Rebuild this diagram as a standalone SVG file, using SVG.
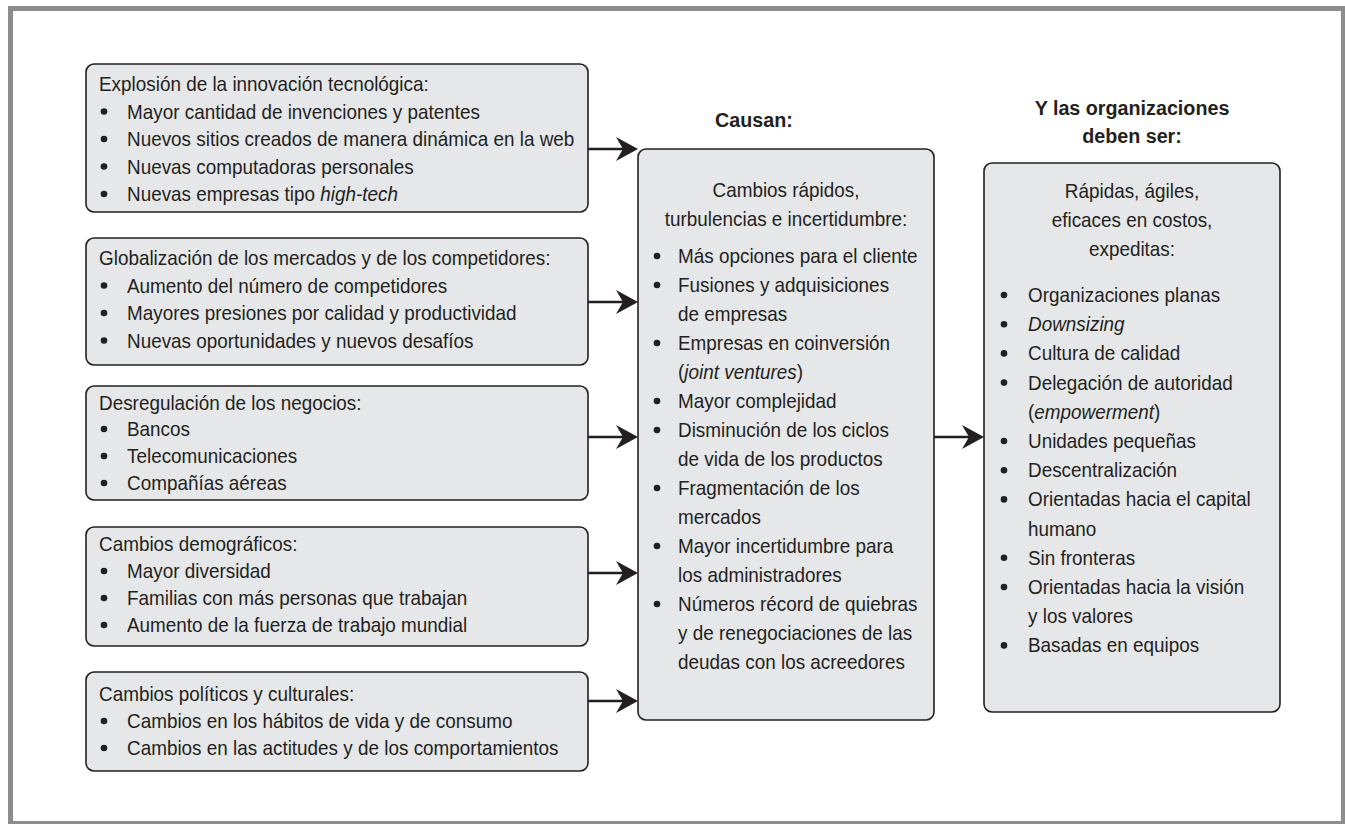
<svg xmlns="http://www.w3.org/2000/svg" width="1345" height="824" viewBox="0 0 1345 824">
<style>
.frame{fill:#ffffff;stroke:#8c8c8c;stroke-width:5}
.box{fill:#e6e7e8;stroke:#231f20;stroke-width:1.6}
.t{font-family:"Liberation Sans",Arial,sans-serif;font-size:21px;fill:#231f20}
.b{font-family:"Liberation Sans",Arial,sans-serif;font-size:21px;font-weight:bold;fill:#231f20}
.c{text-anchor:middle}
.i{font-style:italic}
.dot{fill:#231f20}
.conn{stroke:#231f20;stroke-width:2.6;fill:none}
</style>
<defs>
<marker id="ah" markerUnits="userSpaceOnUse" markerWidth="22" markerHeight="24" viewBox="0 0 22 24" refX="10" refY="12" orient="auto">
<path d="M0,0 L22,12 L0,24 L7,12 Z" fill="#231f20"/>
</marker>
</defs>
<rect width="1345" height="824" fill="#ffffff"/>
<rect class="frame" x="10.5" y="8.5" width="1333" height="815"/>

<g id="box-tecnologia">
<rect class="box" x="86" y="64" width="502" height="148" rx="8"/>
<text class="t" transform="translate(99,91) scale(0.9,1)">Explosión de la innovación tecnológica:</text>
<circle class="dot" cx="104" cy="111.5" r="3.3"/><text class="t" transform="translate(127,118.5) scale(0.9,1)">Mayor cantidad de invenciones y patentes</text>
<circle class="dot" cx="104" cy="139" r="3.3"/><text class="t" transform="translate(127,146) scale(0.9,1)">Nuevos sitios creados de manera dinámica en la web</text>
<circle class="dot" cx="104" cy="166.5" r="3.3"/><text class="t" transform="translate(127,173.5) scale(0.9,1)">Nuevas computadoras personales</text>
<circle class="dot" cx="104" cy="194" r="3.3"/><text class="t" transform="translate(127,201) scale(0.9,1)">Nuevas empresas tipo <tspan class="i">high-tech</tspan></text>
</g>

<g id="box-globalizacion">
<rect class="box" x="86" y="238" width="502" height="127" rx="8"/>
<text class="t" transform="translate(99,265) scale(0.9,1)">Globalización de los mercados y de los competidores:</text>
<circle class="dot" cx="104" cy="285.5" r="3.3"/><text class="t" transform="translate(127,292.5) scale(0.9,1)">Aumento del número de competidores</text>
<circle class="dot" cx="104" cy="313" r="3.3"/><text class="t" transform="translate(127,320) scale(0.9,1)">Mayores presiones por calidad y productividad</text>
<circle class="dot" cx="104" cy="340.5" r="3.3"/><text class="t" transform="translate(127,347.5) scale(0.9,1)">Nuevas oportunidades y nuevos desafíos</text>
</g>

<g id="box-desregulacion">
<rect class="box" x="86" y="386" width="502" height="114" rx="8"/>
<text class="t" transform="translate(99,409.5) scale(0.9,1)">Desregulación de los negocios:</text>
<circle class="dot" cx="104" cy="429" r="3.3"/><text class="t" transform="translate(127,436) scale(0.9,1)">Bancos</text>
<circle class="dot" cx="104" cy="456" r="3.3"/><text class="t" transform="translate(127,463) scale(0.9,1)">Telecomunicaciones</text>
<circle class="dot" cx="104" cy="483" r="3.3"/><text class="t" transform="translate(127,490) scale(0.9,1)">Compañías aéreas</text>
</g>

<g id="box-demograficos">
<rect class="box" x="86" y="527" width="502" height="119" rx="8"/>
<text class="t" transform="translate(99,551) scale(0.9,1)">Cambios demográficos:</text>
<circle class="dot" cx="104" cy="571" r="3.3"/><text class="t" transform="translate(127,578) scale(0.9,1)">Mayor diversidad</text>
<circle class="dot" cx="104" cy="598" r="3.3"/><text class="t" transform="translate(127,605) scale(0.9,1)">Familias con más personas que trabajan</text>
<circle class="dot" cx="104" cy="625" r="3.3"/><text class="t" transform="translate(127,632) scale(0.9,1)">Aumento de la fuerza de trabajo mundial</text>
</g>

<g id="box-politicos">
<rect class="box" x="86" y="672" width="502" height="99" rx="8"/>
<text class="t" transform="translate(99,701) scale(0.9,1)">Cambios políticos y culturales:</text>
<circle class="dot" cx="104" cy="721" r="3.3"/><text class="t" transform="translate(127,728) scale(0.9,1)">Cambios en los hábitos de vida y de consumo</text>
<circle class="dot" cx="104" cy="748" r="3.3"/><text class="t" transform="translate(127,755) scale(0.9,1)">Cambios en las actitudes y de los comportamientos</text>
</g>

<g id="causan">
<text class="b" transform="translate(715,127) scale(0.94,1)">Causan:</text>
<rect class="box" x="638" y="149" width="296" height="571" rx="8"/>
<text class="t c" transform="translate(786,197) scale(0.9,1)">Cambios rápidos,</text>
<text class="t c" transform="translate(786,226) scale(0.9,1)">turbulencias e incertidumbre:</text>
<circle class="dot" cx="657" cy="256" r="3.3"/><text class="t" transform="translate(678,263) scale(0.9,1)">Más opciones para el cliente</text>
<circle class="dot" cx="657" cy="285" r="3.3"/><text class="t" transform="translate(678,292) scale(0.9,1)">Fusiones y adquisiciones</text>
<text class="t" transform="translate(678,321) scale(0.9,1)">de empresas</text>
<circle class="dot" cx="657" cy="343" r="3.3"/><text class="t" transform="translate(678,350) scale(0.9,1)">Empresas en coinversión</text>
<text class="t" transform="translate(678,379) scale(0.9,1)">(<tspan class="i">joint ventures</tspan>)</text>
<circle class="dot" cx="657" cy="401" r="3.3"/><text class="t" transform="translate(678,408) scale(0.9,1)">Mayor complejidad</text>
<circle class="dot" cx="657" cy="430" r="3.3"/><text class="t" transform="translate(678,437) scale(0.9,1)">Disminución de los ciclos</text>
<text class="t" transform="translate(678,466) scale(0.9,1)">de vida de los productos</text>
<circle class="dot" cx="657" cy="488" r="3.3"/><text class="t" transform="translate(678,495) scale(0.9,1)">Fragmentación de los</text>
<text class="t" transform="translate(678,524) scale(0.9,1)">mercados</text>
<circle class="dot" cx="657" cy="546" r="3.3"/><text class="t" transform="translate(678,553) scale(0.9,1)">Mayor incertidumbre para</text>
<text class="t" transform="translate(678,582) scale(0.9,1)">los administradores</text>
<circle class="dot" cx="657" cy="604" r="3.3"/><text class="t" transform="translate(678,611) scale(0.9,1)">Números récord de quiebras</text>
<text class="t" transform="translate(678,640) scale(0.9,1)">y de renegociaciones de las</text>
<text class="t" transform="translate(678,669) scale(0.9,1)">deudas con los acreedores</text>
</g>

<g id="organizaciones">
<text class="b c" transform="translate(1132,115) scale(0.94,1)">Y las organizaciones</text>
<text class="b c" transform="translate(1132,143) scale(0.94,1)">deben ser:</text>
<rect class="box" x="984" y="163" width="296" height="549" rx="8"/>
<text class="t c" transform="translate(1132,198) scale(0.9,1)">Rápidas, ágiles,</text>
<text class="t c" transform="translate(1132,227) scale(0.9,1)">eficaces en costos,</text>
<text class="t c" transform="translate(1132,256) scale(0.9,1)">expeditas:</text>
<circle class="dot" cx="1004" cy="295" r="3.3"/><text class="t" transform="translate(1028,302) scale(0.9,1)">Organizaciones planas</text>
<circle class="dot" cx="1004" cy="324.2" r="3.3"/><text class="t" transform="translate(1028,331.2) scale(0.9,1)"><tspan class="i">Downsizing</tspan></text>
<circle class="dot" cx="1004" cy="353.4" r="3.3"/><text class="t" transform="translate(1028,360.4) scale(0.9,1)">Cultura de calidad</text>
<circle class="dot" cx="1004" cy="382.6" r="3.3"/><text class="t" transform="translate(1028,389.6) scale(0.9,1)">Delegación de autoridad</text>
<text class="t" transform="translate(1028,418.8) scale(0.9,1)">(<tspan class="i">empowerment</tspan>)</text>
<circle class="dot" cx="1004" cy="441" r="3.3"/><text class="t" transform="translate(1028,448) scale(0.9,1)">Unidades pequeñas</text>
<circle class="dot" cx="1004" cy="470.2" r="3.3"/><text class="t" transform="translate(1028,477.2) scale(0.9,1)">Descentralización</text>
<circle class="dot" cx="1004" cy="499.4" r="3.3"/><text class="t" transform="translate(1028,506.4) scale(0.9,1)">Orientadas hacia el capital</text>
<text class="t" transform="translate(1028,535.6) scale(0.9,1)">humano</text>
<circle class="dot" cx="1004" cy="557.8" r="3.3"/><text class="t" transform="translate(1028,564.8) scale(0.9,1)">Sin fronteras</text>
<circle class="dot" cx="1004" cy="587" r="3.3"/><text class="t" transform="translate(1028,594) scale(0.9,1)">Orientadas hacia la visión</text>
<text class="t" transform="translate(1028,623.2) scale(0.9,1)">y los valores</text>
<circle class="dot" cx="1004" cy="645.4" r="3.3"/><text class="t" transform="translate(1028,652.4) scale(0.9,1)">Basadas en equipos</text>
</g>

<g id="connectors">
<line class="conn" x1="588" y1="149" x2="626" y2="149" marker-end="url(#ah)"/>
<line class="conn" x1="588" y1="302" x2="626" y2="302" marker-end="url(#ah)"/>
<line class="conn" x1="588" y1="437" x2="626" y2="437" marker-end="url(#ah)"/>
<line class="conn" x1="588" y1="573" x2="626" y2="573" marker-end="url(#ah)"/>
<line class="conn" x1="588" y1="701" x2="626" y2="701" marker-end="url(#ah)"/>
<line class="conn" x1="934" y1="437" x2="972" y2="437" marker-end="url(#ah)"/>
</g>
</svg>
